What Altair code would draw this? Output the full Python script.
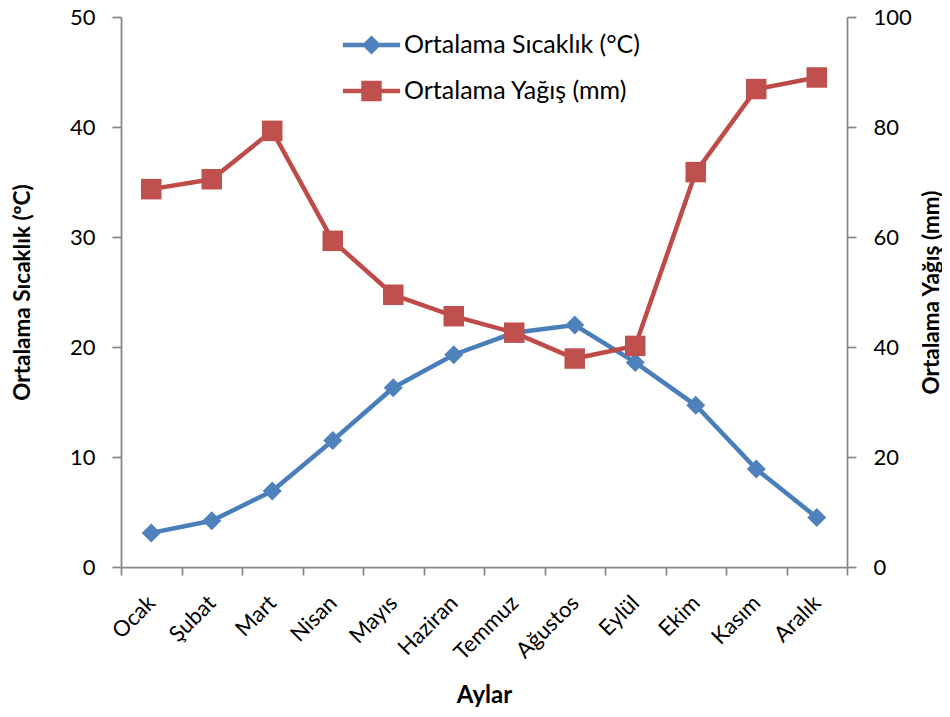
import altair as alt
import pandas as pd

months = ["Ocak", "Şubat", "Mart", "Nisan", "Mayıs", "Haziran",
          "Temmuz", "Ağustos", "Eylül", "Ekim", "Kasım", "Aralık"]
temperature = [3.1, 4.2, 6.9, 11.5, 16.3, 19.3, 21.3, 22.0, 18.6, 14.7, 8.9, 4.5]
precipitation = [68.7, 70.5, 79.3, 59.3, 49.5, 45.6, 42.6, 37.9, 40.2, 71.8, 86.9, 89.0]
temp_ticks = [0, 10, 20, 30, 40, 50]
precip_ticks = [0, 20, 40, 60, 80, 100]
series_names = ["Ortalama Sıcaklık (°C)", "Ortalama Yağış (mm)"]
line_colors = ["#4A7EBB", "#BE4B48"]
marker_colors = ["#4F81BD", "#C0504D"]

FONT = "Lato"
AXIS_GRAY = "#868686"

df = pd.DataFrame({"Ay": months, "Sicaklik": temperature, "Yagis": precipitation})
legend_df = pd.DataFrame({"Seri": series_names})

# legend symbols: a line segment with the marker on it (custom SVG paths)
legend_shapes = [
    "M-1.43,-0.11L1.43,-0.11L1.43,0.11L-1.43,0.11Z M-0.48,0L0,-0.48L0.48,0L0,0.48Z",
    "M-1.43,-0.11L1.43,-0.11L1.43,0.11L-1.43,0.11Z M-0.51,-0.51L0.51,-0.51L0.51,0.51L-0.51,0.51Z",
]

x_enc = alt.X(
    "Ay:N", sort=months, bandPosition=0.5,
    scale=alt.Scale(type="band", paddingInner=0, paddingOuter=0),
    axis=alt.Axis(title="Aylar", labelAngle=-45, labelAlign="right",
                  labelBaseline="middle", labelPadding=24, tickBand="extent",
                  tickSize=8, titleY=128, titleBaseline="middle", titleFontSize=24),
)

temp_y = alt.Y(
    "Sicaklik:Q", scale=alt.Scale(domain=[0, 50]),
    axis=alt.Axis(values=temp_ticks, orient="left", title="Ortalama Sıcaklık (ºC)",
                  tickSize=9, labelPadding=17, titleAngle=270, titleX=-99,
                  titleY=275, titleAlign="center", titleBaseline="middle"),
)
precip_y = alt.Y(
    "Yagis:Q", scale=alt.Scale(domain=[0, 100]),
    axis=alt.Axis(values=precip_ticks, orient="right", title="Ortalama Yağış (mm)",
                  tickSize=9, labelPadding=17, titleAngle=270, titleX=84,
                  titleY=275, titleAlign="center", titleBaseline="middle"),
)

base = alt.Chart(df)

temp_line = base.mark_line(color=line_colors[0], strokeWidth=4.5).encode(x=x_enc, y=temp_y)
temp_pts = base.mark_point(filled=True, shape="diamond", size=361, opacity=1,
                           color=marker_colors[0]).encode(x=x_enc, y=temp_y)

legend_layer = alt.Chart(legend_df).transform_filter("false").mark_point(
    filled=True, opacity=1
).encode(
    color=alt.Color("Seri:N", scale=alt.Scale(domain=series_names, range=marker_colors),
                    title=None),
    shape=alt.Shape("Seri:N", scale=alt.Scale(domain=series_names, range=legend_shapes),
                    title=None),
)

precip_line = base.mark_line(color=line_colors[1], strokeWidth=4.5).encode(x=x_enc, y=precip_y)
precip_pts = base.mark_point(filled=True, shape="square", size=420, opacity=1,
                             color=marker_colors[1]).encode(x=x_enc, y=precip_y)

left = alt.layer(temp_line, temp_pts, legend_layer)
right = alt.layer(precip_line, precip_pts)

chart = alt.layer(left, right).resolve_scale(y="independent").properties(
    width=726, height=550,
    autosize="none",
    padding={"left": 113, "top": 9, "right": 95, "bottom": 142},
).configure_view(stroke=None).configure_axis(
    grid=False,
    labelFont=FONT, labelFontSize=22, labelColor="#000000",
    titleFont=FONT, titleFontSize=22.5, titleFontWeight="bold", titleColor="#000000",
    domainColor=AXIS_GRAY, tickColor=AXIS_GRAY, domainWidth=1.75, tickWidth=1.75,
).configure_legend(
    orient="none", legendX=230.5, legendY=8, padding=0,
    symbolSize=1600, symbolStrokeWidth=0,
    labelFont=FONT, labelFontSize=25, labelColor="#000000", labelLimit=0,
    labelOffset=12.5, rowPadding=13,
)

chart.save("out.html", embed_options={"renderer": "svg", "actions": False})
